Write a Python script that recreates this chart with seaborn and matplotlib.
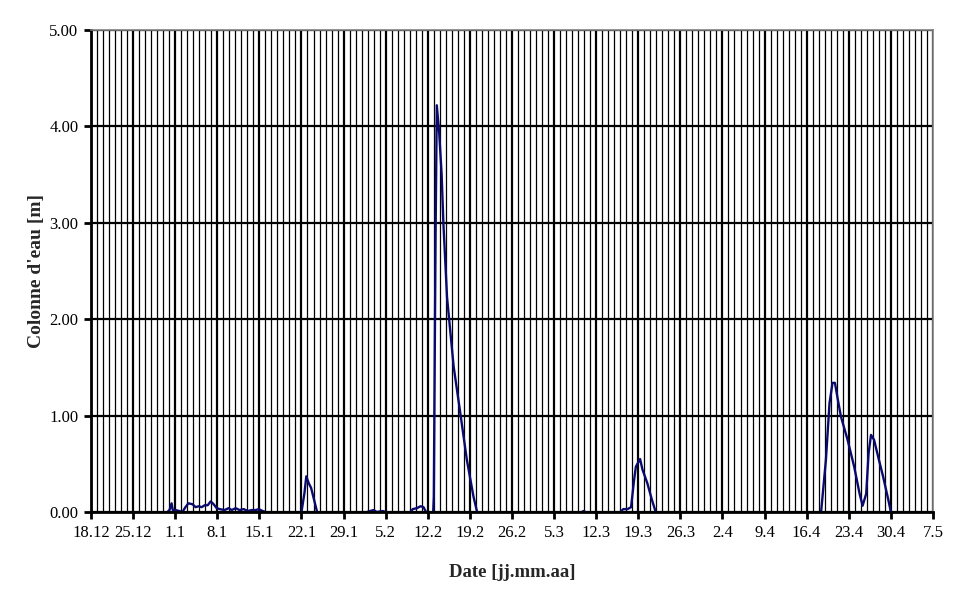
import matplotlib
matplotlib.use("Agg")
import matplotlib.pyplot as plt
from matplotlib.ticker import MultipleLocator, FuncFormatter
import seaborn as sns
import pandas as pd

# weekly tick labels, day 0 = 18.12
week_labels = ["18.12", "25.12", "1.1", "8.1", "15.1", "22.1", "29.1", "5.2",
               "12.2", "19.2", "26.2", "5.3", "12.3", "19.3", "26.3", "2.4",
               "9.4", "16.4", "23.4", "30.4", "7.5"]

# water column readings per segment (days since 18.12, metres)
seg_early_jan_days = [12.7, 13.05, 13.4, 13.6, 14.05, 14.7, 15.2, 15.7, 16.2, 16.9,
                      17.4, 17.9, 18.4, 18.9, 19.4, 19.9, 20.4, 20.9, 21.4, 22.2,
                      22.9, 23.4, 24.05, 24.7, 25.4, 26.05, 26.7, 27.4, 27.9, 28.55, 29.05]
seg_early_jan_vals = [0.0, 0.02, 0.09, 0.02, 0.02, 0.01, 0.0, 0.05, 0.09, 0.08,
                      0.05, 0.06, 0.05, 0.07, 0.07, 0.11, 0.08, 0.04, 0.03, 0.02,
                      0.04, 0.02, 0.04, 0.02, 0.03, 0.01, 0.02, 0.02, 0.03, 0.01, 0.0]

seg_late_jan_days = [35.0, 35.5, 35.8, 36.2, 36.6, 37.0, 37.6]
seg_late_jan_vals = [0.0, 0.2, 0.37, 0.3, 0.25, 0.15, 0.0]

seg_feb_a_days = [45.9, 46.4, 47.0, 47.5, 48.5, 49.0]
seg_feb_a_vals = [0.0, 0.01, 0.02, 0.0, 0.01, 0.0]

seg_feb_b_days = [53.1, 53.5, 54.2, 54.8, 55.3, 55.7]
seg_feb_b_vals = [0.0, 0.03, 0.04, 0.06, 0.05, 0.0]

seg_flood_days = [56.9, 57.0, 57.3, 57.5, 57.9, 58.3, 58.6, 59.2, 60.3, 61.4, 62.5, 63.6, 64.2]
seg_flood_vals = [0.0, 0.16, 2.89, 4.22, 3.93, 3.51, 2.99, 2.23, 1.51, 1.03, 0.54, 0.16, 0.0]

seg_march_days = [81.6, 81.9, 82.2]
seg_march_vals = [0.0, 0.01, 0.0]

seg_mid_march_days = [88.0, 88.5, 89.2, 89.8, 90.3, 90.6, 91.3, 91.7, 92.5, 93.3, 93.9]
seg_mid_march_vals = [0.0, 0.03, 0.03, 0.05, 0.33, 0.47, 0.55, 0.44, 0.30, 0.12, 0.0]

seg_april_days = [121.4, 122.2, 122.8, 123.3, 123.7, 124.2, 124.7, 125.8, 126.9, 127.8,
                  128.3, 128.9, 129.3, 129.7, 130.2, 130.9, 131.7, 132.6, 133.0]
seg_april_vals = [0.0, 0.54, 1.13, 1.34, 1.34, 1.16, 0.99, 0.75, 0.47, 0.19,
                  0.065, 0.19, 0.61, 0.80, 0.75, 0.57, 0.37, 0.12, 0.0]

segments = [
    (seg_early_jan_days, seg_early_jan_vals),
    (seg_late_jan_days, seg_late_jan_vals),
    (seg_feb_a_days, seg_feb_a_vals),
    (seg_feb_b_days, seg_feb_b_vals),
    (seg_flood_days, seg_flood_vals),
    (seg_march_days, seg_march_vals),
    (seg_mid_march_days, seg_mid_march_vals),
    (seg_april_days, seg_april_vals),
]

frames = []
for i, (d, v) in enumerate(segments):
    frames.append(pd.DataFrame({"day": d, "level": v, "seg": i}))
df = pd.concat(frames, ignore_index=True)

sns.set_style("white")
plt.rcParams["font.family"] = ["Liberation Serif", "DejaVu Serif"]

fig = plt.figure(figsize=(9.68, 6.02), dpi=100)
ax = fig.add_axes([0.094, 0.1495, 0.8698, 0.8005])

sns.lineplot(data=df, x="day", y="level", units="seg", estimator=None,
             color="#0a0a6e", linewidth=1.7, ax=ax, legend=False)

n_days = 7 * (len(week_labels) - 1)
ax.set_xlim(0, n_days)
ax.set_ylim(0, 5)

# grid: weekly + daily verticals, unit horizontals
ax.xaxis.set_major_locator(MultipleLocator(7))
ax.xaxis.set_minor_locator(MultipleLocator(1))
ax.xaxis.set_major_formatter(FuncFormatter(lambda x, p: week_labels[int(round(x / 7))]
                                           if 0 <= int(round(x / 7)) < len(week_labels) else ""))
ax.yaxis.set_major_locator(MultipleLocator(1))
ax.yaxis.set_major_formatter(FuncFormatter(lambda y, p: "%.2f" % y))

ax.grid(which="major", axis="x", color="black", linewidth=1.6)
ax.grid(which="minor", axis="x", color="black", linewidth=0.9)
ax.grid(which="major", axis="y", color="black", linewidth=1.6)

ax.tick_params(axis="both", which="major", direction="out", length=5, width=2,
               labelsize=12, colors="black", pad=4)
ax.tick_params(axis="x", which="minor", length=0)
ax.tick_params(left=True, bottom=True)

for side in ["left", "bottom"]:
    ax.spines[side].set_color("black")
    ax.spines[side].set_linewidth(2)
for side in ["top", "right"]:
    ax.spines[side].set_color("#808080")
    ax.spines[side].set_linewidth(1.2)

ax.set_xlabel("Date [jj.mm.aa]", fontsize=13.5, fontweight="bold", labelpad=17)
ax.set_ylabel("Colonne d'eau [m]", fontsize=14, fontweight="bold", labelpad=3)

fig.savefig("out.png", dpi=100)
